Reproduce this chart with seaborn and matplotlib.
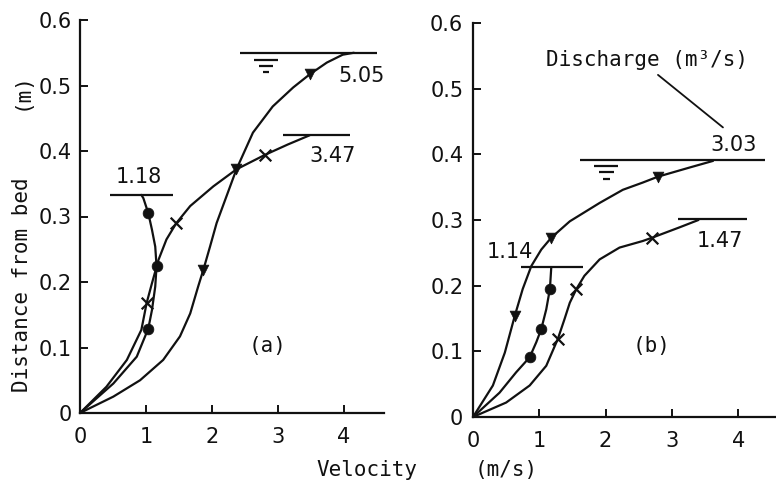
import matplotlib
matplotlib.use("Agg")
import matplotlib.pyplot as plt
import seaborn as sns

sns.set_theme(style="ticks")
plt.rcParams["font.family"] = ["DejaVu Sans Mono", "DejaVu Sans"]

# ---------------- panel (a) ----------------
# discharge 1.18 m3/s
a1_curve_v = [0, 0.505, 0.86, 1.035, 1.09, 1.14, 1.16, 1.14, 1.09, 1.035, 0.96, 0.93]
a1_curve_d = [0, 0.045, 0.086, 0.129, 0.157, 0.193, 0.224, 0.254, 0.280, 0.305,
              0.328, 0.333]
a1_pts_v = [1.035, 1.16, 1.035]
a1_pts_d = [0.129, 0.224, 0.305]
# discharge 3.47 m3/s
a2_curve_v = [0, 0.40, 0.71, 0.93, 1.01, 1.09, 1.19, 1.31, 1.46, 1.67, 2.02,
              2.37, 2.80, 3.15, 3.48]
a2_curve_d = [0, 0.040, 0.081, 0.127, 0.168, 0.198, 0.234, 0.265, 0.290, 0.316,
              0.346, 0.372, 0.394, 0.410, 0.424]
a2_pts_v = [1.01, 1.46, 2.80]
a2_pts_d = [0.168, 0.290, 0.394]
# discharge 5.05 m3/s
a3_curve_v = [0, 0.505, 0.91, 1.26, 1.515, 1.67, 1.79, 1.87, 1.97, 2.07, 2.22,
              2.37, 2.62, 2.92, 3.23, 3.48, 3.74, 3.98, 4.15]
a3_curve_d = [0, 0.025, 0.050, 0.081, 0.117, 0.152, 0.193, 0.219, 0.254, 0.290,
              0.331, 0.372, 0.428, 0.468, 0.497, 0.517, 0.535, 0.547, 0.550]
a3_pts_v = [1.87, 2.37, 3.48]
a3_pts_d = [0.219, 0.372, 0.517]

a_labels = ["1.18", "3.47", "5.05"]
a_surface = [0.333, 0.424, 0.550]
a_surface_from = [0.45, 3.08, 2.42]
a_surface_to = [1.41, 4.09, 4.50]

# ---------------- panel (b) ----------------
# discharge 1.14 m3/s
b1_curve_v = [0, 0.40, 0.65, 0.855, 0.955, 1.03, 1.105, 1.16, 1.18]
b1_curve_d = [0, 0.037, 0.068, 0.091, 0.114, 0.134, 0.164, 0.195, 0.227]
b1_pts_v = [0.855, 1.03, 1.16]
b1_pts_d = [0.091, 0.134, 0.195]
# discharge 1.47 m3/s
b2_curve_v = [0, 0.50, 0.855, 1.105, 1.28, 1.38, 1.46, 1.56, 1.68, 1.91, 2.21,
              2.56, 2.70, 3.12, 3.40]
b2_curve_d = [0, 0.022, 0.048, 0.078, 0.119, 0.149, 0.174, 0.195, 0.215, 0.240,
              0.258, 0.268, 0.273, 0.289, 0.300]
b2_pts_v = [1.28, 1.56, 2.70]
b2_pts_d = [0.119, 0.195, 0.273]
# discharge 3.03 m3/s
b3_curve_v = [0, 0.30, 0.48, 0.63, 0.75, 0.88, 1.03, 1.18, 1.46, 1.91, 2.26,
              2.56, 2.79, 3.27, 3.62]
b3_curve_d = [0, 0.048, 0.098, 0.154, 0.195, 0.230, 0.255, 0.273, 0.298, 0.326,
              0.346, 0.357, 0.366, 0.380, 0.390]
b3_pts_v = [0.63, 1.18, 2.79]
b3_pts_d = [0.154, 0.273, 0.366]

b_labels = ["1.14", "1.47", "3.03"]
b_surface = [0.228, 0.301, 0.392]
b_surface_from = [0.73, 3.09, 1.61]
b_surface_to = [1.66, 4.13, 4.40]

y_ticks = [0, 0.1, 0.2, 0.3, 0.4, 0.5, 0.6]
y_tick_labels = ["0", "0.1", "0.2", "0.3", "0.4", "0.5", "0.6"]
x_ticks = [0, 1, 2, 3, 4]
x_tick_labels = ["0", "1", "2", "3", "4"]

INK = "#111111"
FS = 15
NUM_FONT = "DejaVu Sans"
LW = 1.6

W, H = 776, 484
fig = plt.figure(figsize=(W / 100, H / 100), dpi=100)
fig.patch.set_facecolor("white")
ax_a = fig.add_axes([80 / W, (H - 413) / H, 303.6 / W, 393 / H])
ax_b = fig.add_axes([473 / W, (H - 417) / H, 303 / W, 394 / H])


def style_axes(ax, xmax, ypad):
    ax.set_xlim(0, xmax)
    ax.set_ylim(0, 0.6)
    ax.set_facecolor("white")
    sns.despine(ax=ax)
    for side in ("left", "bottom"):
        ax.spines[side].set_linewidth(1.6)
        ax.spines[side].set_color(INK)
    ax.set_xticks(x_ticks)
    ax.set_xticklabels(x_tick_labels, family=NUM_FONT)
    ax.set_yticks(y_ticks)
    ax.set_yticklabels(y_tick_labels, family=NUM_FONT)
    ax.tick_params(axis="both", direction="in", length=6, width=1.4,
                   color=INK, labelcolor=INK, labelsize=FS)
    ax.tick_params(axis="x", pad=10)
    ax.tick_params(axis="y", pad=ypad)
    ax.set_xlabel("")
    ax.set_ylabel("")


def draw_profile(ax, cv, cd, pv, pd_, marker):
    sns.lineplot(x=cv, y=cd, sort=False, estimator=None, color=INK,
                 linewidth=LW, ax=ax, clip_on=False)
    if marker == "x":
        sns.scatterplot(x=pv, y=pd_, marker="x", s=70, color=INK,
                        linewidth=1.6, ax=ax, zorder=4)
    else:
        sns.scatterplot(x=pv, y=pd_, marker=marker, s=60, color=INK,
                        edgecolor=INK, linewidth=0.5, ax=ax, zorder=4)


def water_sign(ax, xc, ytop, dy, widths):
    for i, w in enumerate(widths):
        ax.hlines(ytop - i * dy, xc - w / 2, xc + w / 2, color=INK, linewidth=1.6)


def value_label(ax, x, y, s):
    ax.text(x, y, s, fontsize=FS, color=INK, ha="center", va="center",
            family=NUM_FONT)


# panel (a)
draw_profile(ax_a, a1_curve_v, a1_curve_d, a1_pts_v, a1_pts_d, "o")
draw_profile(ax_a, a2_curve_v, a2_curve_d, a2_pts_v, a2_pts_d, "x")
draw_profile(ax_a, a3_curve_v, a3_curve_d, a3_pts_v, a3_pts_d, "v")
ax_a.hlines(a_surface, a_surface_from, a_surface_to, color=INK, linewidth=LW)
value_label(ax_a, 0.89, 0.36, a_labels[0])
value_label(ax_a, 3.82, 0.393, a_labels[1])
value_label(ax_a, 4.26, 0.514, a_labels[2])
water_sign(ax_a, 2.82, 0.539, 0.0095, [0.36, 0.22, 0.10])
ax_a.text(2.84, 0.102, "(a)", fontsize=FS, color=INK, ha="center", va="center")
style_axes(ax_a, 4.6, 6)

# panel (b)
draw_profile(ax_b, b1_curve_v, b1_curve_d, b1_pts_v, b1_pts_d, "o")
draw_profile(ax_b, b2_curve_v, b2_curve_d, b2_pts_v, b2_pts_d, "x")
draw_profile(ax_b, b3_curve_v, b3_curve_d, b3_pts_v, b3_pts_d, "v")
ax_b.hlines(b_surface, b_surface_from, b_surface_to, color=INK, linewidth=LW)
value_label(ax_b, 0.56, 0.251, b_labels[0])
value_label(ax_b, 3.72, 0.268, b_labels[1])
value_label(ax_b, 3.93, 0.414, b_labels[2])
water_sign(ax_b, 2.01, 0.382, 0.0095, [0.36, 0.22, 0.10])
ax_b.text(2.63, 0.544, "Discharge (m³/s)", fontsize=FS, color=INK,
          ha="center", va="center")
ax_b.plot([2.79, 3.77], [0.521, 0.441], color=INK, linewidth=1.3)
ax_b.text(2.70, 0.108, "(b)", fontsize=FS, color=INK, ha="center", va="center")
style_axes(ax_b, 4.57, 7)

# shared axis titles
fig.text(367 / W, 1 - 470 / H, "Velocity", fontsize=FS, color=INK,
         ha="center", va="center")
fig.text(506 / W, 1 - 470 / H, "(m/s)", fontsize=FS, color=INK,
         ha="center", va="center")
fig.text(22 / W, 1 - 285 / H, "Distance from bed", fontsize=FS, color=INK,
         rotation=90, ha="center", va="center")
fig.text(22 / W, 1 - 91 / H, "(m)", fontsize=FS, color=INK,
         rotation=90, ha="center", va="center")

fig.savefig("out.png", dpi=100, facecolor="white")
